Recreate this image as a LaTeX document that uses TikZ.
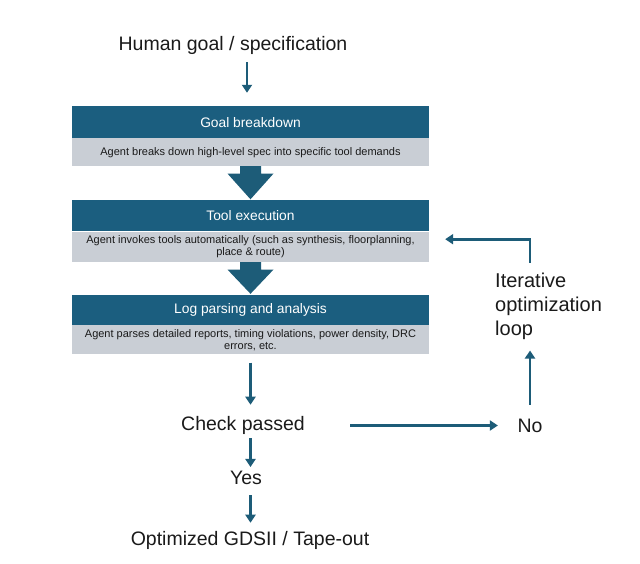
\documentclass[tikz,border=0pt]{standalone}
\usepackage{fontspec}
\setmainfont{Liberation Sans}
\usetikzlibrary{arrows.meta,calc}
\definecolor{hdr}{HTML}{1B5E7F}
\definecolor{bodyg}{HTML}{C9CED5}
\definecolor{arrc}{HTML}{1D5C78}
\definecolor{txt}{HTML}{1A1A1A}
\begin{document}
\begin{tikzpicture}[x=1pt,y=-1pt,
  big/.style={font=\fontsize{19.5}{23}\selectfont, text=txt, inner sep=0pt},
  hdrbox/.style={fill=hdr, text=white, minimum width=357pt, inner sep=0pt, font=\fontsize{13.8}{16}\selectfont},
  bodybox/.style={fill=bodyg, text=txt, minimum width=357pt, inner sep=0pt, align=center, font=\fontsize{11}{12}\selectfont, anchor=north},
  arr/.style={draw=arrc, line width=2.8pt, -{Triangle[width=10pt,length=8pt]}},
  blockarr/.style={fill=arrc}]
\useasboundingbox[fill=white] (0,0) rectangle (640,564);

\node[big] (human) at (233,45) {Human goal / specification};

\node[hdrbox, minimum height=31.5pt] (gh) at (250.5,122.25) {Goal breakdown};
\node[bodybox, minimum height=28pt] (gb) at (gh.south) {Agent breaks down high-level spec into specific tool demands};

\node[hdrbox, minimum height=31pt] (th) at (250.5,216) {Tool execution};
\node[bodybox, minimum height=30.5pt] (tb) at (th.south) {Agent invokes tools automatically (such as synthesis, floorplanning,\\place \& route)};

\node[hdrbox, minimum height=30pt] (lh) at (250.5,310) {Log parsing and analysis};
\node[bodybox, minimum height=29pt] (lb) at (lh.south) {Agent parses detailed reports, timing violations, power density, DRC\\errors, etc.};

\node[big] (check) at (243,425.5) {Check passed};
\node[big] (yes) at (246,478) {Yes};
\node[big] (opt) at (250,540) {Optimized GDSII / Tape-out};
\node[big] (no) at (530,426) {No};
\node[big, font=\fontsize{20}{24}\selectfont, align=left, anchor=north west] (loop) at (495,273) {Iterative\\optimization\\loop};

% block arrows
\fill[blockarr] ($(gb.south)+(-10.5,-0.5)$) -- ++(0,7.5) -- ++(-12.5,0) -- ($(th.north)+(0,-1)$) -- ($(gb.south)+(23,7)$) -- ++(-12.5,0) -- ++(0,-7.5) -- cycle;
\fill[blockarr] ($(tb.south)+(-10.5,-0.5)$) -- ++(0,7.5) -- ++(-12.5,0) -- ($(lh.north)+(0,-1)$) -- ($(tb.south)+(23,7)$) -- ++(-12.5,0) -- ++(0,-7.5) -- cycle;

% connectors
\draw[arr, shorten <=8pt, shorten >=13.5pt] ([xshift=14pt]human.south) -- ([xshift=14pt]human.south |- gh.north);
\draw[arr, shorten <=8pt, shorten >=11.5pt] (lb.south) -- (lb.south |- check.north);
\draw[arr, shorten <=3.5pt, shorten >=4pt] (lb.south |- check.south) -- (lb.south |- yes.north);
\draw[arr, shorten <=10pt, shorten >=8pt] (lb.south |- yes.south) -- (lb.south |- opt.north);
\draw[arr, shorten <=45.5pt, shorten >=19.5pt] (check.east) -- (check.east -| no.west);
\draw[arr, shorten <=14pt, shorten >=10.5pt] (no.north) -- (no.north |- loop.south);
\draw[arr] ($(no.north |- loop.north)+(0,-10)$) |- ($(tb.north east)+(16,7.5)$);
\end{tikzpicture}
\end{document}
